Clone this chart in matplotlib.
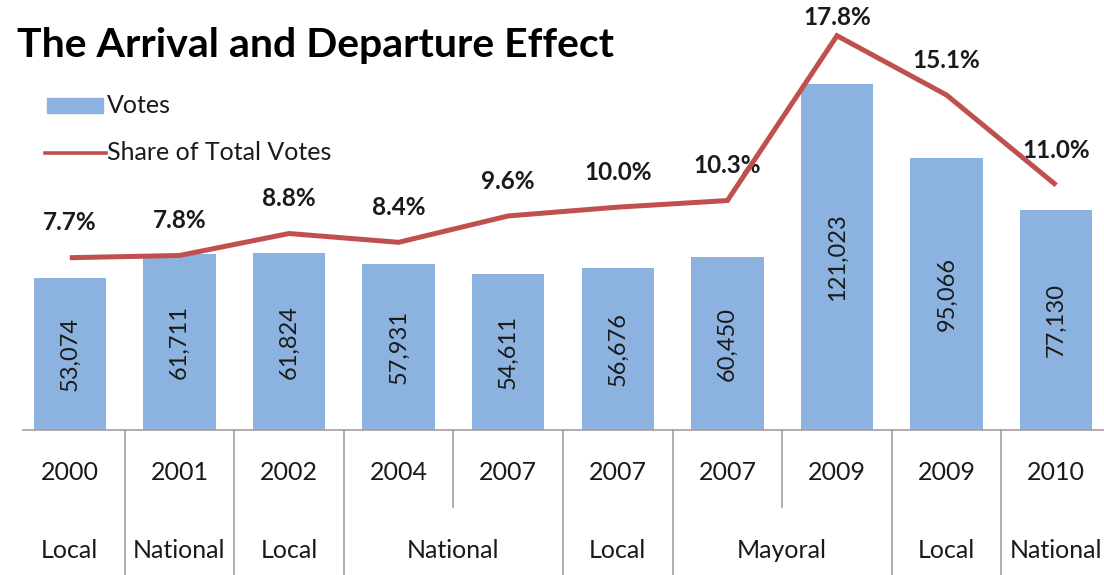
import matplotlib
matplotlib.use("Agg")
import matplotlib.pyplot as plt
from matplotlib.lines import Line2D
from matplotlib.patches import Rectangle
from matplotlib.transforms import blended_transform_factory

# ---- data -------------------------------------------------------------
years = ["2000", "2001", "2002", "2004", "2007", "2007", "2007", "2009", "2009", "2010"]
votes = [53074, 61711, 61824, 57931, 54611, 56676, 60450, 121023, 95066, 77130]
share_pct = [7.7, 7.8, 8.8, 8.4, 9.6, 10.0, 10.3, 17.8, 15.1, 11.0]
election_types = ["Local", "National", "Local", "National", "Local", "Mayoral", "Local", "National"]
type_sizes = [1, 1, 1, 2, 1, 2, 1, 1]

title = "The Arrival and Departure Effect"
bar_series = "Votes"
line_series = "Share of Total Votes"

# ---- style -------------------------------------------------------------
FONT = "Lato"
plt.rcParams["font.family"] = [FONT, "DejaVu Sans"]
BAR_COLOR = "#8CB3E0"
LINE_COLOR = "#C0504D"
TEXT_COLOR = "#1a1a1a"
SEP_COLOR = "#A89C9C"

W, H = 1104, 575
fig = plt.figure(figsize=(W / 100, H / 100), dpi=100)
fig.patch.set_facecolor("white")


def px(x, y):
    """pixel position (from top-left) -> figure fraction"""
    return x / W, 1 - y / H


# plot area: left 15px, baseline at 430px, 400px tall, 10 slots of ~109.6px
left_px, base_px, plot_h, plot_w = 15, 430, 400, 1096
ax = fig.add_axes([left_px / W, (H - base_px) / H, plot_w / W, plot_h / H])
ax2 = ax.twinx()

n = len(votes)
x = list(range(n))

ax.bar(x, votes, width=0.66, color=BAR_COLOR, zorder=2)
ax.set_xlim(-0.5, n - 0.5)
ax.set_ylim(0, 140000)

for xi, v in zip(x, votes):
    ax.text(xi, v / 2, f"{v:,}", rotation=90, ha="center", va="center",
            fontsize=17, color=TEXT_COLOR, zorder=3)

ax2.plot(x, share_pct, color=LINE_COLOR, lw=3.6, solid_capstyle="butt",
         solid_joinstyle="miter", zorder=4)
ax2.set_ylim(-0.14, 18.06)

peak = max(share_pct)
for xi, s in zip(x, share_pct):
    off = 13 if s == peak else 25
    ax2.annotate(f"{s:.1f}%", (xi, s), xytext=(0, off), textcoords="offset points",
                 ha="center", va="center", fontsize=17.5, fontweight="bold",
                 color=TEXT_COLOR, annotation_clip=False)

for a in (ax, ax2):
    a.set_axis_off()

# category axis: baseline, separators, two label rows
trans = blended_transform_factory(ax.transData, ax.transAxes)
ax.add_line(Line2D([-0.427, n - 0.5], [0, 0], transform=trans, color=SEP_COLOR,
                   lw=1.2, clip_on=False, zorder=5))

long_end = -(H - base_px) / plot_h
short_end = -77 / plot_h
year_y = -43 / plot_h
type_y = -121 / plot_h

boundaries = []
pos = 0
for size in type_sizes:
    for k in range(1, size):
        boundaries.append((pos + k - 0.5, short_end))
    pos += size
    if pos < n:
        boundaries.append((pos - 0.5, long_end))
for bx, yend in boundaries:
    ax.add_line(Line2D([bx, bx], [0, yend], transform=trans, color=SEP_COLOR,
                       lw=1.2, clip_on=False))

for xi, yr in zip(x, years):
    ax.text(xi, year_y, yr, transform=trans, ha="center", va="center",
            fontsize=18, color=TEXT_COLOR, clip_on=False)

pos = 0
for label, size in zip(election_types, type_sizes):
    center = pos + (size - 1) / 2
    ax.text(center, type_y, label, transform=trans, ha="center", va="center",
            fontsize=18, color=TEXT_COLOR, clip_on=False)
    pos += size

# title
fig.text(*px(17, 45), title, ha="left", va="center", fontsize=29.5,
         fontweight="bold", color="black")

# legend
fig.add_artist(Rectangle(px(47, 113), 56 / W, 15 / H, transform=fig.transFigure,
                         color=BAR_COLOR))
fig.text(*px(107, 105), bar_series, ha="left", va="center", fontsize=18, color=TEXT_COLOR)
fig.add_artist(Line2D([45 / W, 106 / W], [1 - 153 / H] * 2, transform=fig.transFigure,
                      color=LINE_COLOR, lw=2.6))
fig.text(*px(107, 152), line_series, ha="left", va="center", fontsize=18, color=TEXT_COLOR)

fig.savefig("out.png", dpi=100, facecolor="white")
